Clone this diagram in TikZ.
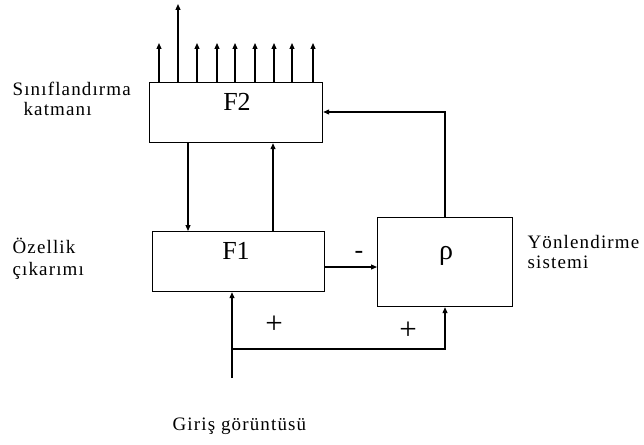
\documentclass[tikz,border=0pt]{standalone}
\usepackage{fontspec}
\setmainfont{Liberation Serif}
\newfontfamily\lblfont[LetterSpace=6]{Liberation Serif}
\usetikzlibrary{arrows.meta,calc}
\begin{document}
\begin{tikzpicture}[x=1pt,y=-1pt,
  line width=1.2pt,
  arr/.style={-{Triangle[length=6pt,width=5pt]}},
  blk/.style={draw,inner sep=0pt,anchor=north west},
  big/.style={inner sep=0pt,anchor=base,font=\fontsize{26}{28}\selectfont},
  lbl/.style={inner sep=0pt,anchor=base west,font=\lblfont\fontsize{19}{21}\selectfont},
  sgn/.style={inner sep=0pt,font=\fontsize{31}{33}\selectfont}]
\useasboundingbox (0,0) rectangle (644,444);
% blocks
\node[blk,minimum width=173pt,minimum height=60pt] (F2) at (149,82) {};
\node[big] (F2t) at (237,110) {F2};
\node[blk,minimum width=172pt,minimum height=60pt] (F1) at (152,231) {};
\node[big] (F1t) at (236,259) {F1};
\node[blk,minimum width=135pt,minimum height=89pt] (rho) at (377,217) {};
\node[big,font=\fontsize{28}{30}\selectfont] (rhot) at (446,259) {ρ};
% outputs of F2
\coordinate (tall) at (178,4);
\draw[arr] (F2.north -| tall) -- (tall);
\foreach \x/\n in {159/a,197/b,217/c,235/d,255/e,274/f,292/g,313/h}{
  \coordinate (o\n) at (\x,43);
  \draw[arr] (F2.north -| o\n) -- (o\n);
}
% F2 <-> F1
\coordinate (dn) at (188,0);
\coordinate (up) at (273,0);
\draw[arr] (F2.south -| dn) -- (F1.north -| dn);
\draw[arr] (F1.north -| up) -- (F2.south -| up);
% F1 -> rho
\coordinate (mid) at (0,267);
\draw[arr] (F1.east |- mid) -- (rho.west |- mid);
\node[sgn,font=\fontsize{26}{28}\selectfont] (minus) at (359,255) {-};
% rho -> F2
\coordinate (fb) at (445,0);
\draw[arr] (rho.north -| fb) |- (F2.east |- 0,112);
% input
\coordinate (in) at (232,378);
\coordinate (j) at (232,349);
\draw[arr] (in) -- (F1.south -| in);
\draw[arr] (j) -| (rho.south -| fb);
\node[sgn] (p1) at (274,325) {+};
\node[sgn] (p2) at (408,331) {+};
% labels
\node[lbl] (l1) at (12,95) {Sınıflandırma};
\node[lbl] (l2) at (23,115) {katmanı};
\node[lbl] (l3) at (12,253) {Özellik};
\node[lbl] (l3b) at (12,275) {çıkarımı};
\node[lbl] (l4) at (527,248) {Yönlendirme};
\node[lbl] (l4b) at (527,268) {sistemi};
\node[lbl] (l5) at (172,430) {Giriş görüntüsü};
\end{tikzpicture}
\end{document}
